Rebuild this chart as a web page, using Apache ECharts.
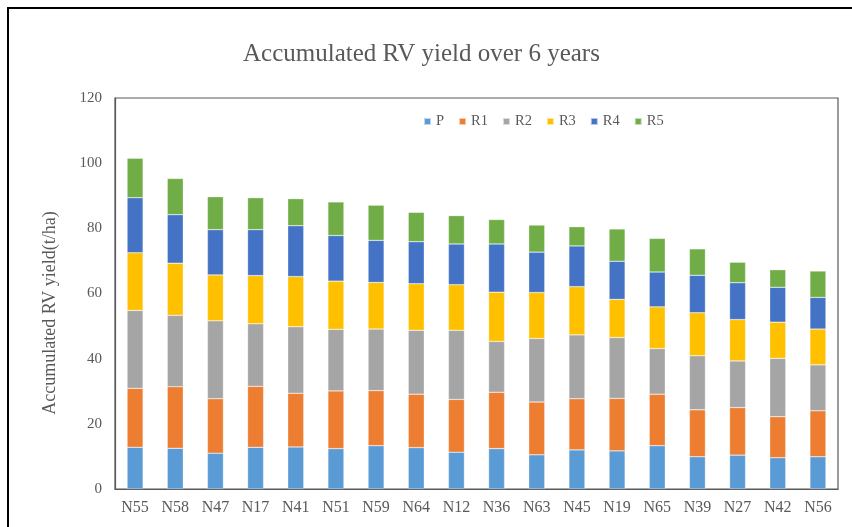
<!DOCTYPE html>
<html>
<head>
<meta charset="utf-8">
<script src="https://cdn.jsdelivr.net/npm/echarts@6/dist/echarts.min.js"></script>
<style>
html,body{margin:0;padding:0;background:#fff;}
#chart{width:852px;height:527px;}
</style>
</head>
<body>
<div id="chart"></div>
<script>
const categories = ['N55','N58','N47','N17','N41','N51','N59','N64','N12','N36','N63','N45','N19','N65','N39','N27','N42','N56'];
const P  = [12.8,12.5,11.0,12.8,12.9,12.4,13.3,12.7,11.3,12.4,10.5,12.0,11.7,13.3,9.9,10.4,9.6,9.9];
const R1 = [18.1,18.9,16.7,18.7,16.5,17.7,16.9,16.4,16.2,17.3,16.2,15.7,16.1,15.8,14.4,14.6,12.6,14.1];
const R2 = [23.9,21.9,23.9,19.2,20.4,18.9,18.9,19.6,21.2,15.6,19.5,19.6,18.7,14.0,16.6,14.3,17.9,14.1];
const R3 = [17.7,16.0,14.1,14.8,15.4,14.8,14.3,14.3,14.0,15.1,14.1,14.8,11.7,12.8,13.2,12.7,11.1,11.0];
const R4 = [16.9,14.9,13.9,14.1,15.6,14.0,12.9,12.9,12.5,14.8,12.4,12.5,11.7,10.7,11.5,11.3,10.7,9.7];
const R5 = [12.1,11.1,10.1,9.8,8.3,10.3,10.8,9.0,8.7,7.5,8.3,5.9,9.9,10.3,8.1,6.3,5.4,8.1];
const seriesNames = ['P','R1','R2','R3','R4','R5'];
const seriesData = [P,R1,R2,R3,R4,R5];
const colors = ['#5B9BD5','#ED7D31','#A5A5A5','#FFC000','#4472C4','#70AD47'];
const yTicks = {min:0, max:120, interval:20};
const yName = 'Accumulated RV yield(t/ha)';

const font = 'Liberation Serif';
const chart = echarts.init(document.getElementById('chart'));
chart.setOption({
  animation:false,
  color: colors,
  title:{
    text:'Accumulated RV yield over 6 years',
    left:238, top:37,
    textStyle:{fontFamily:font,fontSize:25,fontWeight:'normal',color:'#595959'}
  },
  legend:{
    data:seriesNames,
    left:418, top:109,
    itemWidth:7, itemHeight:7, itemGap:14,
    icon:'rect',
    textStyle:{fontFamily:font,fontSize:14.5,color:'#595959'}
  },
  graphic:[{
    type:'rect', shape:{x:8,y:8,width:900,height:600},
    style:{fill:'none',stroke:'#000',lineWidth:2}, silent:true
  },{
    type:'text', x:50, y:313, rotation:Math.PI/2,
    style:{text:yName, fontFamily:font, fontSize:18, fill:'#595959', textAlign:'center', textVerticalAlign:'middle'},
    silent:true
  }],
  grid:{left:115, top:98, right:14, bottom:38, show:true, borderColor:'#595959', borderWidth:1.2},
  xAxis:{
    type:'category', data:categories,
    axisLine:{lineStyle:{color:'#595959',width:1.2}},
    axisTick:{show:false},
    axisLabel:{fontFamily:font,fontSize:16,color:'#595959',margin:11,interval:0}
  },
  yAxis:{
    type:'value', min:yTicks.min, max:yTicks.max, interval:yTicks.interval,
    axisLine:{show:true,lineStyle:{color:'#595959',width:1.2}},
    axisTick:{show:false},
    splitLine:{show:false},
    axisLabel:{fontFamily:font,fontSize:15,color:'#595959',margin:13}
  },
  series: seriesNames.map((n,i)=>({
    name:n, type:'bar', stack:'total', data:seriesData[i], barWidth:16,
    itemStyle:{color:colors[i], borderColor:'rgba(255,255,255,0.6)', borderWidth:0.5}
  }))
});
</script>
</body>
</html>
